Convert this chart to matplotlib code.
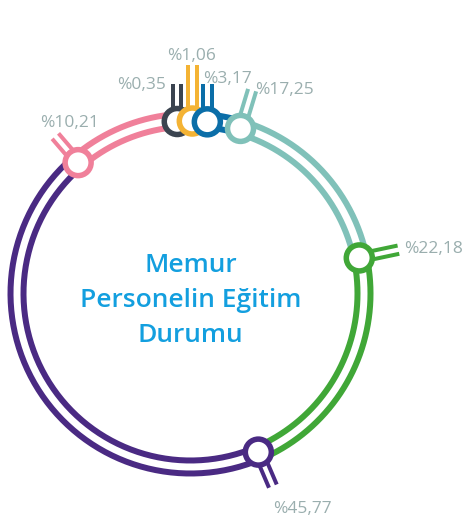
import numpy as np
import matplotlib
matplotlib.use('Agg')
import matplotlib.pyplot as plt
from matplotlib.patches import Circle

# shares in percent, clockwise starting just left of the top
values = [0.35, 1.06, 3.17, 17.25, 22.18, 45.77, 10.21]
colors = ['#3b4450', '#f4b334', '#0b6ea8', '#80c1b9', '#40a737', '#4a2a83', '#f0809a']
title_lines = ['Memur', 'Personelin Eğitim', 'Durumu']

# layout (pixels)
W, H = 465, 524
cx, cy = 190.5, 293.5
r_out, r_in, r_mid = 180.0, 167.0, 172.5
start_deg = -4.4
min_span = 5.0
tick_dir = ['up', 'up', 'up', 'radial', 'radial', 'radial', 'radial']
tick_len = [38, 56, 38, 40, 40, 37, 35]
label_off = [(-11, 5), (-1, -5), (-4, -1), (3, 4), (6, 3), (0, 27), (14, -9)]
label_ha = ['right', 'center', 'left', 'left', 'left', 'left', 'center']

PT = 0.72  # points per pixel at dpi 100
label_color = '#9aaeae'
title_color = '#139fdf'


def pt(t, r):
    t = np.radians(t)
    return cx + r * np.sin(t), cy - r * np.cos(t)


# angular spans: tiny shares get a minimum width, the rest fill up to 360
spans = np.array(values) * 3.6
small = spans < min_span
rest = 360 - min_span * small.sum()
spans = np.where(small, min_span, spans * rest / spans[~small].sum())
starts = start_deg + np.concatenate([[0], np.cumsum(spans)[:-1]])

fig = plt.figure(figsize=(W / 100, H / 100), dpi=100)
ax = fig.add_axes([0, 0, 1, 1])
ax.set_xlim(0, W)
ax.set_ylim(H, 0)
ax.set_aspect('equal')
ax.axis('off')

for i, (v, c, a0, sp) in enumerate(zip(values, colors, starts, spans)):
    th = np.linspace(a0, a0 + sp, 200)
    for r in (r_out, r_in):
        x, y = pt(th, r)
        ax.plot(x, y, color=c, lw=6 * PT, solid_capstyle='butt', zorder=2)

    mx, my = pt(a0, r_mid)
    if tick_dir[i] == 'up':
        d = np.array([0.0, -1.0])
    else:
        d = np.array([np.sin(np.radians(a0)), -np.cos(np.radians(a0))])
    n = np.array([-d[1], d[0]])
    L = tick_len[i]
    for s in (-4.2, 4.2):
        p0 = np.array([mx, my]) + n * s
        p1 = p0 + d * L
        ax.plot([p0[0], p1[0]], [p0[1], p1[1]], color=c, lw=4 * PT,
                solid_capstyle='butt', zorder=3 + 2 * i)
    ax.add_patch(Circle((mx, my), 13, facecolor='white', edgecolor=c,
                        lw=5.5 * PT, zorder=4 + 2 * i))

    ex, ey = mx + d[0] * L, my + d[1] * L
    dx, dy = label_off[i]
    lab = '%' + f'{v:.2f}'.replace('.', ',')
    ax.text(ex + dx, ey + dy, lab, ha=label_ha[i], va='baseline',
            fontsize=12.5, family='Open Sans', color=label_color, zorder=20)

for k, line in enumerate(title_lines):
    ax.text(cx, 272 + 35 * k, line, ha='center', va='baseline', fontsize=19,
            family='Open Sans', weight='semibold', color=title_color)

fig.savefig('out.png', dpi=100)
